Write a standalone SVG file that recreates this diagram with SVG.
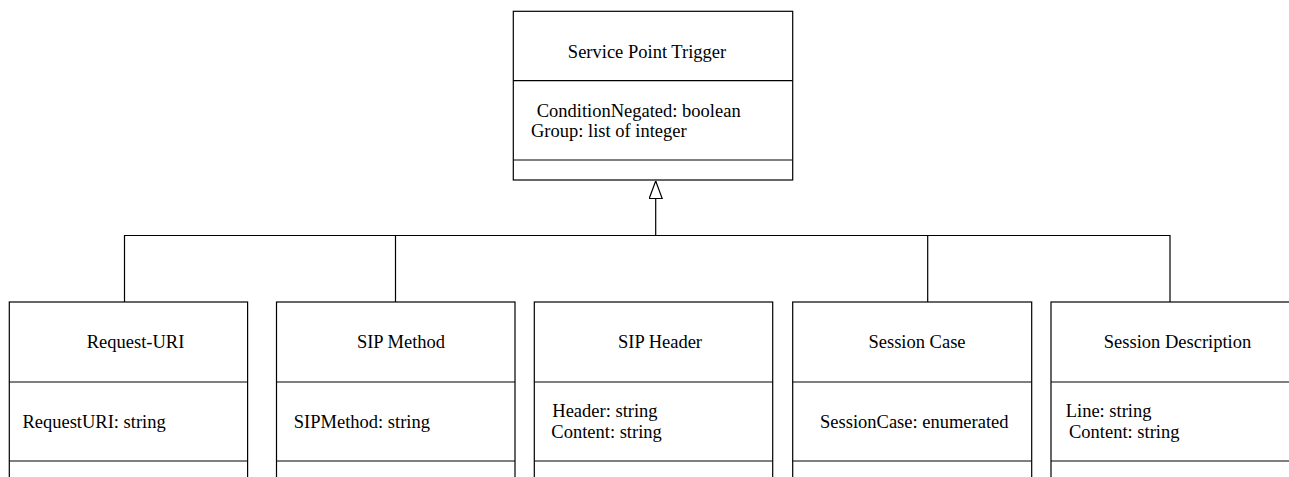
<svg xmlns="http://www.w3.org/2000/svg" width="1289" height="477" viewBox="0 0 1289 477">
<style>
.box{fill:#fff;stroke:#000;stroke-width:1.2}
.div{stroke:#000;stroke-width:1.2;fill:none}
.conn{stroke:#000;stroke-width:1.2;fill:none}
text{font-family:"Liberation Serif","Times New Roman",serif;font-size:18.5px;fill:#000}
.t{text-anchor:middle}
</style>
<defs>
<marker id="gen" viewBox="0 0 18 14" markerWidth="18" markerHeight="14" refX="18" refY="7" orient="auto" markerUnits="userSpaceOnUse">
<path d="M0.5,0.5 L18,7 L0.5,13.5 Z" fill="#fff" stroke="#000" stroke-width="1.2"/>
</marker>
</defs>
<rect width="1289" height="477" fill="#fff"/>
<g id="connectors">
<path class="conn" d="M124.5,302 V235.5 H1170 V302 M395.5,235.5 V302 M927.7,235.5 V302"/>
<path class="conn" d="M655.7,235.5 V181" marker-end="url(#gen)"/>
</g>
<g id="service-point-trigger">
<rect class="box" x="513.3" y="11.3" width="279.4" height="168.7"/>
<path class="div" d="M513.3,80.7 H792.7 M513.3,160 H792.7"/>
<text class="t" x="647" y="57.5">Service Point Trigger</text>
<text x="536.7" y="116.7">ConditionNegated: boolean</text>
<text x="531" y="136.5">Group: list of integer</text>
</g>
<g id="request-uri">
<rect class="box" x="9.3" y="302" width="238.3" height="190"/>
<path class="div" d="M9.3,382 H247.6 M9.3,461 H247.6"/>
<text class="t" x="135.5" y="348">Request-URI</text>
<text x="22.4" y="428">RequestURI: string</text>
</g>
<g id="sip-method">
<rect class="box" x="276.5" y="302" width="238.5" height="190"/>
<path class="div" d="M276.5,382 H515 M276.5,461 H515"/>
<text class="t" x="401" y="348">SIP Method</text>
<text x="293.8" y="428">SIPMethod: string</text>
</g>
<g id="sip-header">
<rect class="box" x="534.3" y="302" width="238.4" height="190"/>
<path class="div" d="M534.3,382 H772.7 M534.3,461 H772.7"/>
<text class="t" x="660" y="348">SIP Header</text>
<text x="552.3" y="417">Header: string</text>
<text x="551.3" y="438">Content: string</text>
</g>
<g id="session-case">
<rect class="box" x="792.7" y="302" width="239" height="190"/>
<path class="div" d="M792.7,382 H1031.7 M792.7,461 H1031.7"/>
<text class="t" x="917" y="348">Session Case</text>
<text x="820" y="428">SessionCase: enumerated</text>
</g>
<g id="session-description">
<rect class="box" x="1051" y="302" width="260" height="190"/>
<path class="div" d="M1051,382 H1311 M1051,461 H1311"/>
<text class="t" x="1177.5" y="348">Session Description</text>
<text x="1065.7" y="417">Line: string</text>
<text x="1069" y="438">Content: string</text>
</g>
</svg>
